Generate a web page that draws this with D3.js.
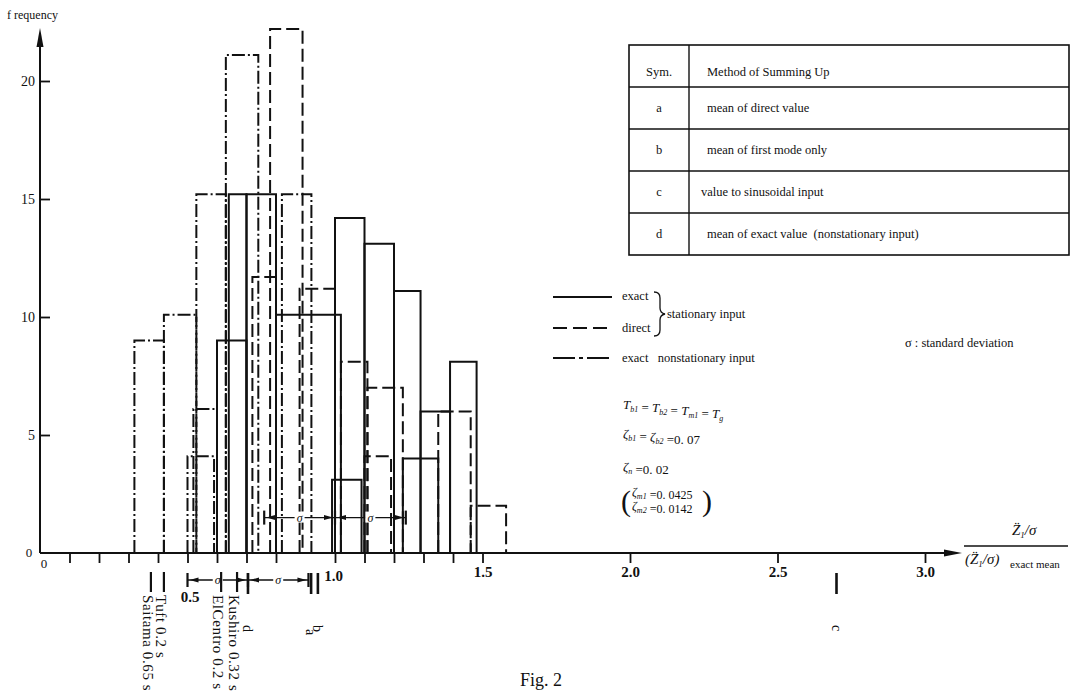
<!DOCTYPE html>
<html>
<head>
<meta charset="utf-8">
<script src="https://cdn.jsdelivr.net/npm/d3@7/dist/d3.min.js"></script>
<style>
  body { margin: 0; background: #fff; }
  svg { font-family: "Liberation Serif", "DejaVu Serif", serif; color: #111; }
</style>
</head>
<body>
<div id="chart"></div>
<script>
// histogram bins: [left, right, frequency], x = (Z1/sigma) / (Z1/sigma)exact mean
const exactBins = [
  [0.60, 0.70, 9], [0.64, 0.70, 15.2], [0.70, 0.80, 15.2], [0.80, 1.02, 10.1],
  [1.00, 1.10, 14.2], [1.10, 1.20, 13.1], [1.20, 1.29, 11.1], [1.29, 1.39, 6],
  [1.39, 1.48, 8.1], [0.99, 1.09, 3.1], [1.23, 1.35, 4]
];
const directBins = [
  [0.78, 0.89, 22.2], [0.72, 0.80, 11.7], [0.88, 1.00, 11.2], [1.02, 1.11, 8.1],
  [1.11, 1.23, 7], [1.10, 1.19, 4.1], [1.35, 1.46, 6], [1.46, 1.58, 2]
];
const nonstatBins = [
  [0.32, 0.42, 9], [0.42, 0.53, 10.1], [0.53, 0.63, 15.2], [0.63, 0.74, 21.1],
  [0.82, 0.92, 15.2], [0.50, 0.59, 4.1], [0.52, 0.60, 6.1]
];

// earthquake marks and method means under the axis
const quakeNames = ["Saitama 0.65 s", "Tuft 0.2 s", "ElCentro 0.2 s", "Kushiro 0.32 s"];
const quakeValues = [0.376, 0.42, 0.614, 0.668];
const methodSyms = ["d", "a", "b", "c"];
const methodValues = [0.705, 0.919, 0.942, 2.70];

// mean +- sigma ranges
const sigmaMeans = [1.0, 0.705];
const sigmaDevs = [0.24, 0.205];

const xMinorTicks = [0.1, 0.2, 0.3, 0.4, 0.6, 0.7, 0.8, 1.1, 1.2, 1.3, 1.4];
const xMajorTicks = [0.5, 1.0, 1.5, 2.0, 2.5, 3.0];
const yTicks = [5, 10, 15, 20];

const tableSyms = ["a", "b", "c", "d"];
const tableMethods = ["mean of direct value", "mean of first mode only",
  "value to sinusoidal input", "mean of exact value  (nonstationary input)"];

var width = 1074, height = 696;
var xScale = d3.scaleLinear().domain([0, 3]).range([40, 925]);
var yScale = d3.scaleLinear().domain([0, 20]).range([553, 81]);
var ink = "#111";
var styles = {
  solid: null,
  dashed: "13,5",
  dashdot: "13,3,2,3"
};

var svg = d3.select("#chart").append("svg")
  .attr("width", width)
  .attr("height", height)
  .style("background", "#fff");

// histograms
function drawBins(bins, dash) {
  svg.append("g")
    .selectAll("path")
    .data(bins)
    .join("path")
    .attr("d", d => `M${xScale(d[0])},${yScale(0)}V${yScale(d[2])}H${xScale(d[1])}V${yScale(0)}`)
    .attr("fill", "none")
    .attr("stroke", ink)
    .attr("stroke-width", 2)
    .attr("stroke-dasharray", dash);
}
drawBins(nonstatBins, styles.dashdot);
drawBins(directBins, styles.dashed);
drawBins(exactBins, styles.solid);

// axes
var xAxis = d3.axisBottom(xScale)
  .tickValues(xMinorTicks.concat(xMajorTicks))
  .tickSize(10)
  .tickFormat(d => xMajorTicks.indexOf(d) >= 0 ? d.toFixed(1) : "");
var xAxisG = svg.append("g")
  .attr("transform", `translate(0, ${yScale(0)})`)
  .call(xAxis);
xAxisG.select(".domain").remove();
xAxisG.selectAll(".tick line").attr("stroke", ink).attr("stroke-width", 1.8);
xAxisG.selectAll(".tick text")
  .attr("font-family", "Liberation Serif")
  .attr("font-size", 15)
  .attr("font-weight", "bold")
  .attr("fill", ink)
  .attr("dy", "0.35em")
  .attr("y", 19);
xAxisG.selectAll(".tick").filter(d => d === 0.5).select("text").attr("y", 44).attr("dx", 2);
xAxisG.selectAll(".tick").filter(d => d === 1.0).select("text").attr("y", 23).attr("dx", -2);

var yAxis = d3.axisLeft(yScale).tickValues(yTicks).tickSize(-10).tickPadding(5);
var yAxisG = svg.append("g")
  .attr("transform", `translate(40, 0)`)
  .call(yAxis);
yAxisG.select(".domain").remove();
yAxisG.selectAll(".tick line").attr("stroke", ink).attr("stroke-width", 1.8);
yAxisG.selectAll(".tick text")
  .attr("font-family", "Liberation Serif")
  .attr("font-size", 14)
  .attr("fill", ink);

svg.append("line")
  .attr("x1", 40).attr("x2", 948)
  .attr("y1", yScale(0)).attr("y2", yScale(0))
  .attr("stroke", ink).attr("stroke-width", 2);
svg.append("path")
  .attr("d", `M962,${yScale(0)}L944,${yScale(0) - 3.5}L944,${yScale(0) + 3.5}Z`)
  .attr("fill", ink);
svg.append("line")
  .attr("x1", 40).attr("x2", 40)
  .attr("y1", yScale(0)).attr("y2", 44)
  .attr("stroke", ink).attr("stroke-width", 2);
svg.append("path")
  .attr("d", "M40,28L36.5,47L43.5,47Z")
  .attr("fill", ink);

svg.append("text").attr("x", 29).attr("y", yScale(0) + 4)
  .attr("font-size", 13).attr("text-anchor", "middle").attr("fill", ink).text("0");
svg.append("text").attr("x", 44).attr("y", yScale(0) + 15)
  .attr("font-size", 13).attr("text-anchor", "middle").attr("fill", ink).text("0");
svg.append("text").attr("x", 7).attr("y", 19)
  .attr("font-size", 12).attr("fill", ink).text("f requency");

// axis title as a fraction
var xt = svg.append("g").attr("fill", ink).attr("font-size", 15);
var num = xt.append("text").attr("x", 1012).attr("y", 535).attr("font-style", "italic");
num.append("tspan").text("Z\u0308");
num.append("tspan").attr("font-size", 9).attr("dy", 3).text("1");
num.append("tspan").attr("dy", -3).text("/\u03c3");
xt.append("line").attr("x1", 964).attr("x2", 1068).attr("y1", 546).attr("y2", 546)
  .attr("stroke", ink).attr("stroke-width", 1.4);
var den = xt.append("text").attr("x", 965).attr("y", 564).attr("font-style", "italic");
den.append("tspan").text("(Z\u0308");
den.append("tspan").attr("font-size", 9).attr("dy", 3).text("1");
den.append("tspan").attr("dy", -3).text("/\u03c3)");
xt.append("text").attr("x", 1010).attr("y", 568).attr("font-size", 11).text("exact mean");

// sigma brackets
function sigmaBracket(mean, sd, y) {
  var g = svg.append("g").attr("stroke", ink).attr("fill", ink);
  var xs = [mean - sd, mean, mean + sd].map(xScale);
  g.append("line").attr("x1", xs[0]).attr("x2", xs[2]).attr("y1", y).attr("y2", y)
    .attr("stroke-width", 1.4);
  xs.forEach(function(x) {
    g.append("line").attr("x1", x).attr("x2", x).attr("y1", y - 7).attr("y2", y + 7)
      .attr("stroke-width", 2.2);
  });
  [[xs[0], 1], [xs[1], -1], [xs[1], 1], [xs[2], -1]].forEach(function(a) {
    var tip = a[0] + a[1] * 2;
    g.append("path")
      .attr("d", `M${tip},${y}L${tip + a[1] * 9},${y - 2.5}L${tip + a[1] * 9},${y + 2.5}Z`)
      .attr("stroke", "none");
  });
  [(xs[0] + xs[1]) / 2, (xs[1] + xs[2]) / 2].forEach(function(x) {
    g.append("rect").attr("x", x - 5).attr("y", y - 6).attr("width", 10).attr("height", 11)
      .attr("fill", "#fff").attr("stroke", "none");
    g.append("text").attr("x", x).attr("y", y + 4).attr("text-anchor", "middle")
      .attr("font-size", 12).attr("font-style", "italic").attr("stroke", "none").text("\u03c3");
  });
}
sigmaBracket(sigmaMeans[0], sigmaDevs[0], yScale(1.5));
sigmaBracket(sigmaMeans[1], sigmaDevs[1], 580);

// marks below the axis
var marks = svg.append("g").attr("fill", ink);
quakeNames.forEach(function(name, i) {
  var x = xScale(quakeValues[i]);
  marks.append("line").attr("x1", x).attr("x2", x).attr("y1", 572).attr("y2", 592)
    .attr("stroke", ink).attr("stroke-width", 2.2);
  marks.append("text")
    .attr("transform", `translate(${x - 3},${595}) rotate(90)`)
    .attr("dy", "0.35em")
    .attr("font-size", 15)
    .attr("letter-spacing", 0.6)
    .text(name);
});
methodSyms.forEach(function(s, i) {
  var x = xScale(methodValues[i]);
  marks.append("line").attr("x1", x).attr("x2", x).attr("y1", 573).attr("y2", 594)
    .attr("stroke", ink).attr("stroke-width", 2.6);
  marks.append("text")
    .attr("transform", `translate(${x},${i === 1 ? 629 : 625}) rotate(90)`)
    .attr("dy", "0.35em")
    .attr("font-size", 14)
    .text(s);
});

svg.append("text").attr("x", 520).attr("y", 686).attr("font-size", 18).attr("fill", ink).text("Fig. 2");

// method table
var tbl = svg.append("g").attr("fill", ink).attr("font-size", 12.5);
var rowY = d3.range(6).map(i => 45 + i * 42);
tbl.append("rect").attr("x", 629).attr("y", rowY[0]).attr("width", 440).attr("height", rowY[5] - rowY[0])
  .attr("fill", "none").attr("stroke", ink).attr("stroke-width", 1.6);
rowY.slice(1, 5).forEach(function(y) {
  tbl.append("line").attr("x1", 629).attr("x2", 1069).attr("y1", y).attr("y2", y)
    .attr("stroke", ink).attr("stroke-width", 1.4);
});
tbl.append("line").attr("x1", 689).attr("x2", 689).attr("y1", rowY[0]).attr("y2", rowY[5])
  .attr("stroke", ink).attr("stroke-width", 1.4);
tbl.append("text").attr("x", 659).attr("y", 76).attr("text-anchor", "middle").text("Sym.");
tbl.append("text").attr("x", 707).attr("y", 76).text("Method of Summing Up");
tableSyms.forEach(function(s, i) {
  var y = rowY[i + 1] + 25;
  tbl.append("text").attr("x", 659).attr("y", y).attr("text-anchor", "middle").text(s);
  tbl.append("text").attr("x", i === 2 ? 701 : 707).attr("y", y).attr("xml:space", "preserve").text(tableMethods[i]);
});

// legend
var lg = svg.append("g").attr("fill", ink).attr("font-size", 12.5);
[["solid", 297], ["dashed", 328], ["dashdot", 358]].forEach(function(l) {
  lg.append("line").attr("x1", 553).attr("x2", 612).attr("y1", l[1]).attr("y2", l[1])
    .attr("stroke", ink).attr("stroke-width", 2)
    .attr("stroke-dasharray", l[0] === "solid" ? null : (l[0] === "dashed" ? "14,6" : "22,4,4,4"));
});
lg.append("text").attr("x", 622).attr("y", 300).text("exact");
lg.append("text").attr("x", 622).attr("y", 332).text("direct");
lg.append("path")
  .attr("d", "M654,292 Q660,292 660,298 L660,308 Q660,313 665,314 Q660,315 660,320 L660,330 Q660,336 654,336")
  .attr("fill", "none").attr("stroke", ink).attr("stroke-width", 1.3);
lg.append("text").attr("x", 667).attr("y", 318).text("stationary input");
lg.append("text").attr("x", 622).attr("y", 362).attr("xml:space", "preserve").text("exact   nonstationary input");
lg.append("text").attr("x", 905).attr("y", 347).text("\u03c3 : standard deviation");

// parameters
var pr = svg.append("g").attr("fill", ink).attr("font-size", 13);
function subText(x, y, parts, size) {
  var t = pr.append("text").attr("x", x).attr("y", y).attr("font-size", size || 13)
    .attr("xml:space", "preserve");
  parts.forEach(function(p) {
    if (p[1] === 1) {
      t.append("tspan").attr("font-size", 8).attr("font-style", "italic").attr("dy", 3).text(p[0]);
      t.append("tspan").attr("dy", -3).text("");
    } else if (p[1] === 2) {
      t.append("tspan").attr("font-style", "italic").text(p[0]);
    } else {
      t.append("tspan").text(p[0]);
    }
  });
}
subText(623, 409, [["T", 2], ["b1", 1], [" = ", 0], ["T", 2], ["b2", 1], [" = ", 0], ["T", 2], ["m1", 1], [" = ", 0], ["T", 2], ["g", 1]]);
subText(623, 438, [["\u03b6", 2], ["b1", 1], [" = ", 0], ["\u03b6", 2], ["b2", 1], [" =0. 07", 0]]);
subText(623, 471, [["\u03b6", 2], ["n", 1], [" =0. 02", 0]]);
subText(632, 496, [["\u03b6", 2], ["m1", 1], [" =0. 0425", 0]], 12);
subText(632, 510, [["\u03b6", 2], ["m2", 1], [" =0. 0142", 0]], 12);
pr.append("text").attr("x", 621).attr("y", 511).attr("font-size", 30).text("(");
pr.append("text").attr("x", 702).attr("y", 511).attr("font-size", 30).text(")");
</script>
</body>
</html>
